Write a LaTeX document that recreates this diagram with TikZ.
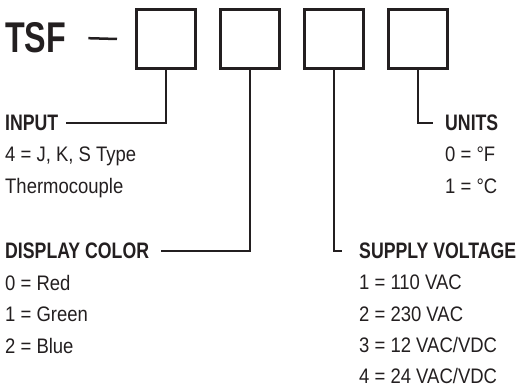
\documentclass[tikz,border=0pt]{standalone}
\usepackage{fontspec}
\setmainfont[FakeStretch=0.88]{Liberation Sans}
\newfontfamily\headfont[FakeStretch=0.79]{Liberation Sans}
\newfontfamily\codefont[FakeStretch=0.75]{Liberation Sans}
\usetikzlibrary{positioning}
\definecolor{ink}{HTML}{231F20}
\tikzset{
  digit/.style = {draw=ink, line width=2.7pt, minimum size=59.3pt, inner sep=0pt},
  wire/.style  = {draw=ink, line width=2.5pt},
  head/.style  = {text=ink, anchor=base west, inner sep=0pt, text height=16pt, text depth=0pt,
                  font=\headfont\bfseries\fontsize{22.4}{26}\selectfont},
  opts/.style  = {text=ink, anchor=north west, inner sep=0pt, align=left,
                  font=\fontsize{21}{31.3}\selectfont},
  code/.style  = {text=ink, anchor=base west, inner sep=0pt,
                  font=\codefont\bfseries\fontsize{43}{50}\selectfont}
}

\begin{document}
\begin{tikzpicture}[x=1pt, y=1pt, node distance=22pt]
  \useasboundingbox (0,0) rectangle (516,391);
  % part number
  \node[code] (tsf) at (5,338) {TSF};
  \node[digit] (b1) at (166,352) {};
  \node[digit, right=of b1] (b2) {};
  \node[digit, right=of b2] (b3) {};
  \node[digit, right=of b3] (b4) {};
  \draw[wire] ([xshift=22pt]tsf.east) -- ([xshift=-18pt]b1.west);
  % headings
  \node[head] (input)   at (5,260)   {INPUT};
  \node[head] (units)   at (445,260) {UNITS};
  \node[head] (display) at (5,132)   {DISPLAY COLOR};
  \node[head] (supply)  at (359,132) {SUPPLY VOLTAGE};
  % option lists
  \node[opts] (inlist)  at ([yshift=-16pt]input.base west)   {4 = J, K, S Type\\Thermocouple};
  \node[opts] (unlist)  at ([yshift=-16pt]units.base west)   {0 = °F\\1 = °C};
  \node[opts] (dclist)  at ([yshift=-16pt]display.base west) {0 = Red\\1 = Green\\2 = Blue};
  \node[opts] (svlist)  at ([yshift=-16pt]supply.base west)  {1 = 110 VAC\\2 = 230 VAC\\3 = 12 VAC/VDC\\4 = 24 VAC/VDC};
  % leaders
  \draw[wire] (b1.south) |- ([xshift=8pt]input.east);
  \draw[wire] (b2.south) |- ([xshift=12pt]display.east);
  \draw[wire] (b3.south) |- ([xshift=-17pt]supply.west);
  \draw[wire] (b4.south) |- ([xshift=-12pt]units.west);
\end{tikzpicture}
\end{document}
